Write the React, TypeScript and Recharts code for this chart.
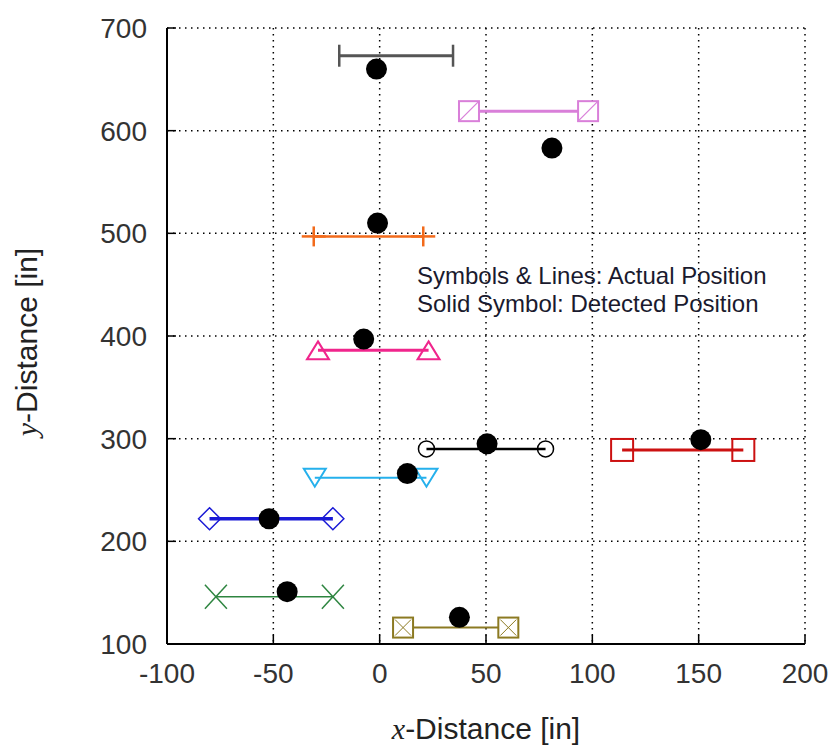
import { CartesianGrid, Scatter, ScatterChart, XAxis, YAxis } from "recharts";

// actual positions: each marker pair (left / right end) and its y value
const actualXs = [
  [-19, 34.5],
  [42, 98],
  [-31, 20.5],
  [-29, 23],
  [22, 78],
  [114, 171],
  [-30.5, 22],
  [-80, -22],
  [-77, -22],
  [11, 60.5],
];
const actualYs = [673, 619, 497, 386, 290, 289, 262, 222, 146, 116];

// detected positions (solid black dots)
const detectedX = [-1.5, 81, -1, -7.5, 50.5, 151, 13, -52, -43.5, 37.5];
const detectedY = [660, 583, 510, 397, 295, 299, 266, 222, 151, 126];

const xTicks = [-100, -50, 0, 50, 100, 150, 200];
const yTicks = [100, 200, 300, 400, 500, 600, 700];

const FONT = "'Liberation Sans', Arial, sans-serif";

type ShapeProps = { cx?: number; cy?: number };

const cap = (color: string) => ({ cx = 0, cy = 0 }: ShapeProps) => (
  <line x1={cx} x2={cx} y1={cy - 11} y2={cy + 11} stroke={color} strokeWidth={2.5} />
);
const slashSquare = (color: string) => ({ cx = 0, cy = 0 }: ShapeProps) => (
  <g stroke={color} strokeWidth={2} fill="#fff">
    <rect x={cx - 10} y={cy - 10} width={20} height={20} />
    <line x1={cx - 9} y1={cy + 9} x2={cx + 9} y2={cy - 9} strokeWidth={1.2} />
  </g>
);
const plus = (color: string) => ({ cx = 0, cy = 0 }: ShapeProps) => (
  <g stroke={color} strokeWidth={2.5}>
    <line x1={cx - 12} x2={cx + 12} y1={cy} y2={cy} />
    <line x1={cx} x2={cx} y1={cy - 10} y2={cy + 10} />
  </g>
);
const triUp = (color: string) => ({ cx = 0, cy = 0 }: ShapeProps) => (
  <path d={`M${cx},${cy - 9} L${cx + 11},${cy + 9} L${cx - 11},${cy + 9} Z`} stroke={color} strokeWidth={2} fill="none" />
);
const triDown = (color: string) => ({ cx = 0, cy = 0 }: ShapeProps) => (
  <path d={`M${cx - 11},${cy - 9} L${cx + 11},${cy - 9} L${cx},${cy + 9} Z`} stroke={color} strokeWidth={2} fill="none" />
);
const openCircle = (color: string) => ({ cx = 0, cy = 0 }: ShapeProps) => (
  <circle cx={cx} cy={cy} r={8} stroke={color} strokeWidth={1.5} fill="none" />
);
const square = (color: string) => ({ cx = 0, cy = 0 }: ShapeProps) => (
  <rect x={cx - 11} y={cy - 11} width={22} height={22} stroke={color} strokeWidth={2} fill="none" />
);
const diamond = (color: string) => ({ cx = 0, cy = 0 }: ShapeProps) => (
  <path d={`M${cx},${cy - 11} L${cx + 11},${cy} L${cx},${cy + 11} L${cx - 11},${cy} Z`} stroke={color} strokeWidth={1.5} fill="none" />
);
const cross = (color: string) => ({ cx = 0, cy = 0 }: ShapeProps) => (
  <g stroke={color} strokeWidth={1.5}>
    <line x1={cx - 11} y1={cy - 12} x2={cx + 11} y2={cy + 12} />
    <line x1={cx - 11} y1={cy + 12} x2={cx + 11} y2={cy - 12} />
  </g>
);
const crossSquare = (color: string) => ({ cx = 0, cy = 0 }: ShapeProps) => (
  <g stroke={color} strokeWidth={2} fill="#fff">
    <rect x={cx - 10} y={cy - 10} width={20} height={20} />
    <line x1={cx - 8} y1={cy - 8} x2={cx + 8} y2={cy + 8} strokeWidth={1} />
    <line x1={cx - 8} y1={cy + 8} x2={cx + 8} y2={cy - 8} strokeWidth={1} />
  </g>
);
const solidDot = ({ cx = 0, cy = 0 }: ShapeProps) => <circle cx={cx} cy={cy} r={10.5} fill="#000" />;

const STYLES = [
  { color: "#555555", width: 3, shape: cap },
  { color: "#d97fd9", width: 3, shape: slashSquare },
  { color: "#f26a1b", width: 2.5, shape: plus },
  { color: "#f0258c", width: 3, shape: triUp },
  { color: "#000000", width: 2.5, shape: openCircle },
  { color: "#cc1111", width: 3, shape: square },
  { color: "#25b0ec", width: 2, shape: triDown },
  { color: "#1a1ad6", width: 3.5, shape: diamond },
  { color: "#2e8540", width: 1.5, shape: cross },
  { color: "#8c7a22", width: 2, shape: crossSquare },
];

const emptyTick = () => <g />;

export default function App() {
  const detected = detectedX.map((x, i) => ({ x, y: detectedY[i] }));
  return (
    <div style={{ position: "absolute", left: 0, top: 0, width: 832, height: 751, background: "#fff", fontFamily: FONT }}>
      <ScatterChart width={832} height={751} margin={{ top: 28, right: 27, bottom: 0, left: 0 }}>
        <CartesianGrid xAxisId="b" yAxisId="l" stroke="#000" strokeWidth={1.5} strokeDasharray="1.5 4.5" />
        <XAxis
          xAxisId="b"
          type="number"
          dataKey="x"
          domain={[-100, 200]}
          ticks={xTicks}
          interval={0}
          height={107}
          axisLine={{ stroke: "#000", strokeWidth: 2 }}
          tickLine={{ stroke: "#000", strokeWidth: 1.5 }}
          tickSize={-9}
          tickMargin={28}
          tick={{ fill: "#333", fontSize: 28, fontFamily: FONT }}
        />
        <XAxis
          xAxisId="t"
          orientation="top"
          type="number"
          dataKey="x"
          domain={[-100, 200]}
          ticks={xTicks}
          interval={0}
          height={0}
          axisLine={{ stroke: "#000", strokeWidth: 2 }}
          tickLine={{ stroke: "#000", strokeWidth: 1.5 }}
          tickSize={-9}
          tick={emptyTick}
        />
        <YAxis
          yAxisId="l"
          type="number"
          dataKey="y"
          domain={[100, 700]}
          ticks={yTicks}
          interval={0}
          width={167}
          axisLine={{ stroke: "#000", strokeWidth: 2 }}
          tickLine={{ stroke: "#000", strokeWidth: 1.5 }}
          tickSize={-9}
          tickMargin={29}
          tick={{ fill: "#333", fontSize: 28, fontFamily: FONT }}
        />
        <YAxis
          yAxisId="r"
          orientation="right"
          type="number"
          dataKey="y"
          domain={[100, 700]}
          ticks={yTicks}
          interval={0}
          width={0}
          axisLine={{ stroke: "#000", strokeWidth: 2 }}
          tickLine={{ stroke: "#000", strokeWidth: 1.5 }}
          tickSize={-9}
          tick={emptyTick}
        />
        {actualXs.map((pair, i) => {
          const s = STYLES[i];
          return (
            <Scatter
              key={i}
              xAxisId="b"
              yAxisId="l"
              data={pair.map((x) => ({ x, y: actualYs[i] }))}
              line={{ stroke: s.color, strokeWidth: s.width }}
              shape={s.shape(s.color)}
              isAnimationActive={false}
            />
          );
        })}
        <Scatter xAxisId="b" yAxisId="l" data={detected} shape={solidDot} isAnimationActive={false} />
      </ScatterChart>

      <div style={{ position: "absolute", left: 417, top: 262, fontSize: 24, lineHeight: "28px", color: "#1a1a2e", whiteSpace: "nowrap" }}>
        Symbols &amp; Lines: Actual Position
        <br />
        Solid Symbol: Detected Position
      </div>

      <div style={{ position: "absolute", left: 486, top: 712, transform: "translateX(-50%)", fontSize: 30, color: "#222", whiteSpace: "nowrap" }}>
        <span style={{ fontFamily: "'Liberation Serif', serif", fontStyle: "italic" }}>x</span>-Distance [in]
      </div>

      <div
        style={{
          position: "absolute",
          left: 27,
          top: 342,
          transform: "translate(-50%, -50%) rotate(-90deg)",
          fontSize: 30,
          color: "#222",
          whiteSpace: "nowrap",
        }}
      >
        <span style={{ fontFamily: "'Liberation Serif', serif", fontStyle: "italic" }}>y</span>-Distance [in]
      </div>
    </div>
  );
}
